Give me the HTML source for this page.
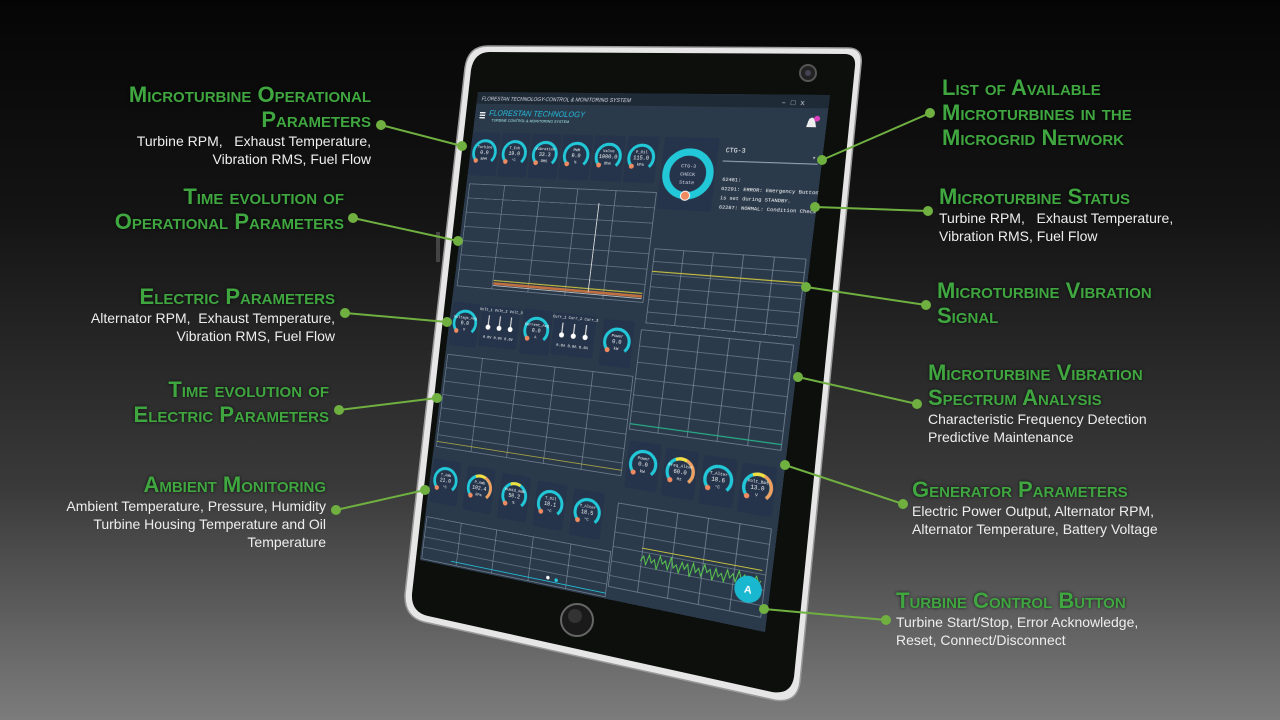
<!DOCTYPE html>
<html><head><meta charset="utf-8">
<style>
html,body{margin:0;padding:0}
body{width:1280px;height:720px;overflow:hidden;position:relative;background:linear-gradient(180deg,#050505 0%,#141414 30%,#3a3a3a 68%,#7c7c7c 100%);font-family:"Liberation Sans",sans-serif}
.t{position:absolute;white-space:nowrap}
.h{color:#3fa640;font-weight:bold;font-variant:small-caps;font-size:22px;line-height:25px;text-shadow:0 0 3px rgba(0,0,0,.8)}
.d{color:#eee;font-size:14px;line-height:18px}
.r{text-align:right}
#scr{position:absolute;left:0;top:0;width:400px;height:560px;transform-origin:0 0;transform:matrix3d(0.61445,-0.022895,0,-0.00031995,-0.106438,0.831893,0,-0.000006825,0,0,1,0,478,92,0,1)}
</style></head><body>
<svg width="1280" height="720" style="position:absolute;left:0;top:0">
<path d="M488,46 L848,48 Q863,48 861,64 L800,682 Q797,704 774,700 L424,622 Q404,617 405,594 L465,68 Q468,46 488,46 Z" fill="#e6e6e6" stroke="#999" stroke-width="1.5"/>
<path d="M490,52 L846,54 Q856,55 855,66 L794,677 Q791,695 772,692 L428,616 Q411,612 412,594 L471,70 Q474,52 490,52 Z" fill="#0d0f0d"/>
<circle cx="808" cy="73" r="8" fill="#222" stroke="#555" stroke-width="2"/>
<circle cx="808" cy="73" r="3" fill="#445"/>
<circle cx="577" cy="620" r="16" fill="#1a1a1a" stroke="#666" stroke-width="2"/>
<circle cx="575" cy="616" r="7" fill="#333"/>
<rect x="436" y="232" width="4" height="30" fill="#444"/>
<polygon points="478,92 830,95 765,632 420,558" fill="#2b3a4b"/>
</svg>
<div id="scr">
<svg width="400" height="560" font-family="Liberation Mono, monospace">
<rect x="0" y="0" width="400" height="560" fill="#2b3a4b"/>
<rect x="0" y="0" width="400" height="14" fill="#1e2a36"/>
<text x="6" y="10" fill="#dde" font-size="6" font-style="italic" font-family="Liberation Sans">FLORESTAN TECHNOLOGY-CONTROL &amp; MONITORING SYSTEM</text>
<text x="352" y="11" fill="#ccd" font-size="8">–  □  x</text>
<rect x="6" y="24" width="7" height="1.5" fill="#fff"/><rect x="6" y="27" width="7" height="1.5" fill="#fff"/><rect x="6" y="30" width="7" height="1.5" fill="#fff"/>
<text x="18" y="28" fill="#25c0e0" font-size="9" font-style="italic" font-family="Liberation Sans">FLORESTAN TECHNOLOGY</text>
<text x="22" y="35" fill="#aee" font-size="4.5" font-family="Liberation Sans">TURBINE CONTROL &amp; MONITORING SYSTEM</text>
<path d="M380 34 L382 26 Q385 22 388 26 L390 34 Z" fill="#eee"/><circle cx="390" cy="25" r="3" fill="#e040c0"/>
<defs>
<g id="gg"><rect x="-18" y="-24" width="36" height="52" rx="3" fill="#25344a"/><path d="M-9.9 9.9 A14 14 0 1 1 9.9 9.9" stroke="#22c8d8" stroke-width="3.5" fill="none"/><circle cx="-9.9" cy="9.9" r="2.8" fill="#f08a60"/></g>
<g id="sl"><rect x="-0.7" y="-12" width="1.4" height="12" fill="#ddd"/><circle cx="0" cy="2" r="3" fill="#fff"/></g>
</defs>
<g font-size="4.5" fill="#fff" text-anchor="middle">
<g transform="translate(18,72)"><use href="#gg"/><text y="-5">Turbine</text><text y="2" font-size="6">0.0</text><text y="9">RPM</text></g>
<g transform="translate(56,72)"><use href="#gg"/><text y="-5">T_Exh</text><text y="2" font-size="6">19.0</text><text y="9">°C</text></g>
<g transform="translate(94,72)"><use href="#gg"/><text y="-5">Vibration</text><text y="2" font-size="6">33.3</text><text y="9">RMS</text></g>
<g transform="translate(132,72)"><use href="#gg"/><text y="-5">PWM</text><text y="2" font-size="6">0.0</text><text y="9">%</text></g>
<g transform="translate(170,72)"><use href="#gg"/><text y="-5">Valve</text><text y="2" font-size="6">1000.0</text><text y="9">Ohm</text></g>
<g transform="translate(208,72)"><use href="#gg"/><text y="-5">P_Oil</text><text y="2" font-size="6">115.0</text><text y="9">kPa</text></g>
</g>
<rect x="232" y="48" width="60" height="80" rx="3" fill="#25344a"/>
<circle cx="262" cy="88" r="24" fill="none" stroke="#22c8d8" stroke-width="8"/>
<circle cx="262" cy="112" r="5" fill="#f08a60" stroke="#fff" stroke-width="1"/>
<g font-size="5.5" fill="#dde" text-anchor="middle"><text x="262" y="81">CTG-3</text><text x="262" y="90">CHECK</text><text x="262" y="99">State</text></g>
<text x="300" y="63" fill="#fff" font-size="7">CTG-3</text>
<rect x="298" y="72" width="98" height="1.2" fill="#8fa0b0"/>
<text x="390" y="68" fill="#ddd" font-size="6">▾</text>
<g fill="#fff" font-size="5.6"><text x="300" y="94">62481:</text><text x="300" y="104">62291: ERROR: Emergency Button</text><text x="300" y="114">is set during STANDBY.</text><text x="300" y="124">62287: NORMAL: Condition Check</text></g>
<g stroke="#8fa0b0" stroke-width="0.6" fill="none">
<rect x="4" y="110" width="226" height="122"/>
<path d="M4 127H230M4 144H230M4 161H230M4 178H230M4 195H230M4 212H230M49 110V232M94 110V232M139 110V232M184 110V232"/>
<rect x="236" y="172" width="160" height="82"/>
<path d="M236 186H396M236 200H396M236 214H396M236 228H396M236 242H396M268 172V254M300 172V254M332 172V254M364 172V254"/>
<rect x="232" y="262" width="162" height="110"/>
<path d="M232 280H394M232 298H394M232 316H394M232 334H394M232 352H394M264 262V372M296 262V372M328 262V372M360 262V372"/>
<rect x="3" y="314" width="226" height="110"/>
<path d="M3 330H229M3 346H229M3 362H229M3 378H229M3 394H229M3 410H229M48 314V424M93 314V424M138 314V424M183 314V424"/>
<rect x="230" y="454" width="164" height="92"/>
<path d="M230 470H394M230 486H394M230 502H394M230 518H394M230 534H394M263 454V546M296 454V546M329 454V546M362 454V546"/>
<rect x="2" y="508" width="226" height="50"/>
<path d="M2 520H228M2 532H228M2 544H228M47 508V558M92 508V558M137 508V558M182 508V558"/>
</g>
<path d="M50 222H228" stroke="#c8c040" stroke-width="1.2"/>
<rect x="50" y="224" width="178" height="3" fill="#c07040"/>
<path d="M50 228H228" stroke="#e8e8e8" stroke-width="0.8"/>
<path d="M166 125V226" stroke="#ddd" stroke-width="1"/>
<path d="M236 197H396" stroke="#c8c040" stroke-width="1.3"/>
<path d="M232 366H394" stroke="#28b088" stroke-width="1.2"/>
<path d="M3 418H229" stroke="#c8c040" stroke-width="0.8"/>
<path d="M40 554H228" stroke="#22b8d0" stroke-width="1"/>
<circle cx="160" cy="550" r="2" fill="#fff"/><circle cx="170" cy="551" r="2" fill="#22c8d8"/>
<path d="M262 498H390" stroke="#c8c040" stroke-width="1"/>
<polyline fill="none" stroke="#5fd050" stroke-width="1" points="262,512 265,506 268,515 271,504 274,512 277,508 280,518 283,503 286,511 289,507 292,516 295,502 298,513 301,509 304,517 307,505 310,512 313,506 316,519 319,504 322,513 325,508 328,516 331,503 334,511 337,507 340,518 343,505 346,513 349,509 352,517 355,504 358,512 361,507 364,515 367,503 370,511 373,506 376,516 379,508 382,513 385,505 388,512 390,509"/>
<g font-size="4.5" fill="#fff" text-anchor="middle">
<g transform="translate(20,275)"><use href="#gg"/><text y="-5">Voltage_Avg</text><text y="2" font-size="6">0.0</text><text y="9">V</text></g>
<rect x="40" y="252" width="48" height="48" rx="3" fill="#25344a"/>
<text x="64" y="258">Volt_1 Volt_2 Volt_3</text>
<use href="#sl" x="50" y="275"/><use href="#sl" x="64" y="275"/><use href="#sl" x="78" y="275"/>
<text x="64" y="290">0.0V 0.0V 0.0V</text>
<g transform="translate(110,275)"><use href="#gg"/><text y="-5">Current_Avg</text><text y="2" font-size="6">0.0</text><text y="9">A</text></g>
<rect x="130" y="252" width="50" height="48" rx="3" fill="#25344a"/>
<text x="155" y="258">Curr_1 Curr_2 Curr_3</text>
<use href="#sl" x="141" y="275"/><use href="#sl" x="155" y="275"/><use href="#sl" x="169" y="275"/>
<text x="155" y="290">0.0A 0.0A 0.0A</text>
<g transform="translate(206,278)"><use href="#gg"/><text y="-5">Power</text><text y="2" font-size="6">0.0</text><text y="9">kW</text></g>
<g transform="translate(252,408)"><use href="#gg"/><text y="-5">Power</text><text y="2" font-size="6">0.0</text><text y="9">kW</text></g>
<g transform="translate(293,410)"><use href="#gg"/><path d="M-2 -14 A14 14 0 0 1 9.9 9.9" stroke="#f0a060" stroke-width="3.5" fill="none"/><path d="M-6 -12.6 A14 14 0 0 1 6 -12.6" stroke="#f0e040" stroke-width="3.5" fill="none"/><text y="-5">Freq_Alter</text><text y="2" font-size="6">60.0</text><text y="9">Hz</text></g>
<g transform="translate(334,412)"><use href="#gg"/><text y="-5">T_Alter</text><text y="2" font-size="6">18.6</text><text y="9">°C</text></g>
<g transform="translate(375,414)"><use href="#gg"/><path d="M-2 -14 A14 14 0 0 1 9.9 9.9" stroke="#f0a060" stroke-width="3.5" fill="none"/><path d="M-6 -12.6 A14 14 0 0 1 6 -12.6" stroke="#f0e040" stroke-width="3.5" fill="none"/><text y="-5">Volt_Bat</text><text y="2" font-size="6">13.0</text><text y="9">V</text></g>
<g transform="translate(20,462)"><use href="#gg"/><text y="-5">T_Amb</text><text y="2" font-size="6">21.0</text><text y="9">°C</text></g>
<g transform="translate(64,464)"><use href="#gg"/><path d="M-2 -14 A14 14 0 0 1 9.9 9.9" stroke="#f0a060" stroke-width="3.5" fill="none"/><path d="M-6 -12.6 A14 14 0 0 1 6 -12.6" stroke="#f0e040" stroke-width="3.5" fill="none"/><text y="-5">P_Amb</text><text y="2" font-size="6">102.4</text><text y="9">kPa</text></g>
<g transform="translate(108,466)"><use href="#gg"/><path d="M-6 -12.6 A14 14 0 0 1 6 -12.6" stroke="#f0e040" stroke-width="3.5" fill="none"/><text y="-5">Humid_Amb</text><text y="2" font-size="6">50.2</text><text y="9">%</text></g>
<g transform="translate(152,468)"><use href="#gg"/><text y="-5">T_Oil</text><text y="2" font-size="6">18.1</text><text y="9">°C</text></g>
<g transform="translate(196,470)"><use href="#gg"/><text y="-5">T_Alter</text><text y="2" font-size="6">18.5</text><text y="9">°C</text></g>
</g>
<circle cx="378" cy="520" r="14" fill="#1ab8d0"/>
<text x="378" y="524" fill="#fff" font-size="11" font-weight="bold" text-anchor="middle" font-family="Liberation Sans">A</text>
</svg>
</div>
<svg width="1280" height="720" style="position:absolute;left:0;top:0">
<g stroke="#6fb040" stroke-width="2" fill="#6fb040">
<line x1="381" y1="125" x2="462" y2="146"/><circle cx="381" cy="125" r="4"/><circle cx="462" cy="146" r="4"/>
<line x1="353" y1="218" x2="458" y2="241"/><circle cx="353" cy="218" r="4"/><circle cx="458" cy="241" r="4"/>
<line x1="345" y1="313" x2="447" y2="322"/><circle cx="345" cy="313" r="4"/><circle cx="447" cy="322" r="4"/>
<line x1="339" y1="410" x2="437" y2="398"/><circle cx="339" cy="410" r="4"/><circle cx="437" cy="398" r="4"/>
<line x1="336" y1="510" x2="425" y2="490"/><circle cx="336" cy="510" r="4"/><circle cx="425" cy="490" r="4"/>
<line x1="930" y1="113" x2="822" y2="160"/><circle cx="930" cy="113" r="4"/><circle cx="822" cy="160" r="4"/>
<line x1="928" y1="211" x2="815" y2="207"/><circle cx="928" cy="211" r="4"/><circle cx="815" cy="207" r="4"/>
<line x1="926" y1="305" x2="806" y2="287"/><circle cx="926" cy="305" r="4"/><circle cx="806" cy="287" r="4"/>
<line x1="917" y1="404" x2="798" y2="377"/><circle cx="917" cy="404" r="4"/><circle cx="798" cy="377" r="4"/>
<line x1="903" y1="504" x2="785" y2="465"/><circle cx="903" cy="504" r="4"/><circle cx="785" cy="465" r="4"/>
<line x1="886" y1="620" x2="764" y2="609"/><circle cx="886" cy="620" r="4"/><circle cx="764" cy="609" r="4"/>
</g></svg>
<div class="t r" style="right:909px;top:82px"><div class="h">Microturbine Operational<br>Parameters</div><div class="d">Turbine RPM,&nbsp;&nbsp; Exhaust Temperature,<br>Vibration RMS, Fuel Flow</div></div>
<div class="t r" style="right:936px;top:184px"><div class="h">Time evolution of<br>Operational Parameters</div></div>
<div class="t r" style="right:945px;top:284px"><div class="h">Electric Parameters</div><div class="d">Alternator RPM,&nbsp; Exhaust Temperature,<br>Vibration RMS, Fuel Flow</div></div>
<div class="t r" style="right:951px;top:377px"><div class="h">Time evolution of<br>Electric Parameters</div></div>
<div class="t r" style="right:954px;top:472px"><div class="h">Ambient Monitoring</div><div class="d">Ambient Temperature, Pressure, Humidity<br>Turbine Housing Temperature and Oil<br>Temperature</div></div>
<div class="t" style="left:942px;top:75px"><div class="h">List of Available<br>Microturbines in the<br>Microgrid Network</div></div>
<div class="t" style="left:939px;top:184px"><div class="h">Microturbine Status</div><div class="d">Turbine RPM,&nbsp;&nbsp; Exhaust Temperature,<br>Vibration RMS, Fuel Flow</div></div>
<div class="t" style="left:937px;top:278px"><div class="h">Microturbine Vibration<br>Signal</div></div>
<div class="t" style="left:928px;top:360px"><div class="h">Microturbine Vibration<br>Spectrum Analysis</div><div class="d">Characteristic Frequency Detection<br>Predictive Maintenance</div></div>
<div class="t" style="left:912px;top:477px"><div class="h">Generator Parameters</div><div class="d">Electric Power Output, Alternator RPM,<br>Alternator Temperature, Battery Voltage</div></div>
<div class="t" style="left:896px;top:588px"><div class="h">Turbine Control Button</div><div class="d">Turbine Start/Stop, Error Acknowledge,<br>Reset, Connect/Disconnect</div></div>
</body></html>
